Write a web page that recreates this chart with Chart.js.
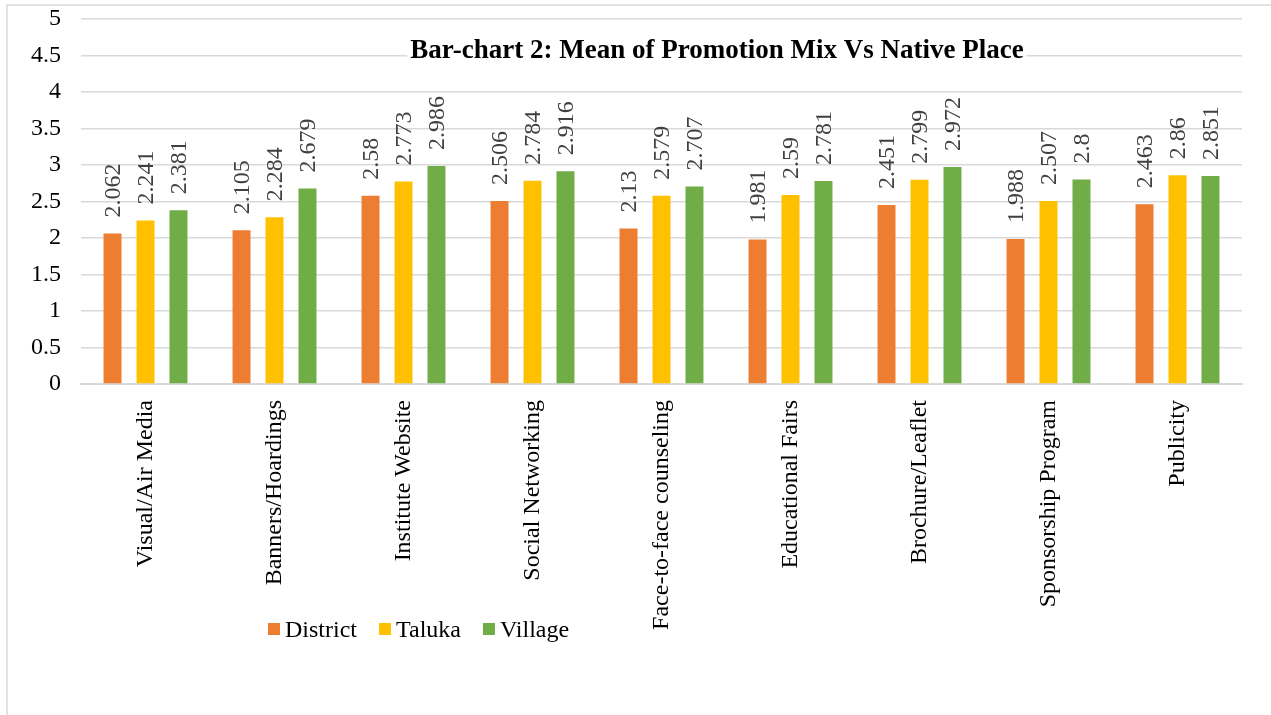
<!DOCTYPE html>
<html>
<head>
<meta charset="utf-8">
<script src="https://cdn.jsdelivr.net/npm/chart.js@4/dist/chart.umd.min.js"></script>
<style>
  html, body { margin: 0; padding: 0; background: #fff; }
  #wrap { position: absolute; left: 0; top: 0; width: 1271px; height: 715px; }
</style>
</head>
<body>
<div id="wrap"><canvas id="chart" width="1271" height="715"></canvas></div>
<script>
// Data
const categories = ['Visual/Air Media', 'Banners/Hoardings', 'Institute Website', 'Social Networking',
    'Face-to-face counseling', 'Educational Fairs', 'Brochure/Leaflet', 'Sponsorship Program', 'Publicity'];
const districtVals = [2.062, 2.105, 2.58, 2.506, 2.13, 1.981, 2.451, 1.988, 2.463];
const talukaVals = [2.241, 2.284, 2.773, 2.784, 2.579, 2.59, 2.799, 2.507, 2.86];
const villageVals = [2.381, 2.679, 2.986, 2.916, 2.707, 2.781, 2.972, 2.8, 2.851];
const seriesNames = ['District', 'Taluka', 'Village'];
const yTickLabels = ['0', '0.5', '1', '1.5', '2', '2.5', '3', '3.5', '4', '4.5', '5'];
const chartTitle = 'Bar-chart 2: Mean of Promotion Mix Vs Native Place';

const colors = ['#ED7D31', '#FFC000', '#70AD47'];
const serif = '"Liberation Serif", "Times New Roman", serif';

// outer frame (top and left edges, like the cropped Word figure)
const framePlugin = {
    id: 'frame',
    beforeDraw(chart) {
        const ctx = chart.ctx;
        ctx.save();
        ctx.strokeStyle = '#d9d9d9';
        ctx.lineWidth = 1.5;
        ctx.beginPath();
        ctx.moveTo(7, 715);
        ctx.lineTo(7, 5);
        ctx.lineTo(1271, 5);
        ctx.stroke();
        ctx.restore();
    }
};

// title sits inside the plot, with a white box over the gridline
const titlePlugin = {
    id: 'innerTitle',
    beforeDatasetsDraw(chart) {
        const ctx = chart.ctx;
        ctx.save();
        ctx.font = 'bold 27px ' + serif;
        const w = ctx.measureText(chartTitle).width;
        const cx = 717;
        ctx.fillStyle = '#fff';
        ctx.fillRect(cx - w / 2 - 3, 34, w + 6, 30);
        ctx.fillStyle = '#000';
        ctx.textAlign = 'center';
        ctx.textBaseline = 'alphabetic';
        ctx.fillText(chartTitle, cx, 58);
        ctx.restore();
    }
};

// vertical value labels above each bar
const valueLabels = {
    id: 'valueLabels',
    afterDatasetsDraw(chart) {
        const ctx = chart.ctx;
        ctx.save();
        ctx.font = '24px ' + serif;
        ctx.fillStyle = '#404040';
        ctx.textAlign = 'left';
        ctx.textBaseline = 'middle';
        chart.data.datasets.forEach((ds, i) => {
            chart.getDatasetMeta(i).data.forEach((bar, j) => {
                ctx.save();
                ctx.translate(bar.x + 1, bar.y - 16);
                ctx.rotate(-Math.PI / 2);
                ctx.fillText(String(ds.data[j]), 0, 0);
                ctx.restore();
            });
        });
        ctx.restore();
    }
};

// legend drawn below-left, overlapping the category label band
const legendPlugin = {
    id: 'sideLegend',
    afterDraw(chart) {
        const ctx = chart.ctx;
        ctx.save();
        ctx.font = '24px ' + serif;
        ctx.textBaseline = 'alphabetic';
        let x = 268;
        chart.data.datasets.forEach(ds => {
            ctx.fillStyle = ds.backgroundColor;
            ctx.fillRect(x, 623, 12, 12);
            ctx.fillStyle = '#000';
            ctx.fillText(ds.label, x + 17, 637);
            x += 17 + ctx.measureText(ds.label).width + 22;
        });
        ctx.restore();
    }
};

const ctx = document.getElementById('chart').getContext('2d');
new Chart(ctx, {
    type: 'bar',
    data: {
        labels: categories,
        datasets: [
            { label: seriesNames[0], data: districtVals, backgroundColor: colors[0] },
            { label: seriesNames[1], data: talukaVals, backgroundColor: colors[1] },
            { label: seriesNames[2], data: villageVals, backgroundColor: colors[2] }
        ]
    },
    options: {
        responsive: false,
        animation: false,
        layout: { padding: { top: 19, right: 29, left: 0, bottom: 0 } },
        datasets: {
            bar: { categoryPercentage: 0.767, barPercentage: 0.545 }
        },
        plugins: {
            legend: { display: false },
            title: { display: false },
            tooltip: { enabled: false }
        },
        scales: {
            x: {
                grid: { display: false, drawTicks: false },
                border: { color: '#d9d9d9', width: 2 },
                ticks: {
                    minRotation: 90,
                    maxRotation: 90,
                    padding: 16,
                    color: '#000',
                    font: { family: serif, size: 24 }
                },
                afterFit(scale) { scale.height = 331; scale.paddingTop = 0; scale.paddingBottom = 0; }
            },
            y: {
                min: 0,
                max: 5,
                grid: { color: '#d9d9d9', lineWidth: 1.5, drawTicks: false },
                border: { display: false },
                ticks: {
                    stepSize: 0.5,
                    padding: 20,
                    color: '#000',
                    font: { family: serif, size: 24 },
                    callback: (v, i) => yTickLabels[i]
                },
                // pin the plot box to where the reference has it
                afterFit(scale) { scale.width = 81; scale.paddingTop = 0; scale.paddingBottom = 0; }
            }
        }
    },
    plugins: [framePlugin, titlePlugin, valueLabels, legendPlugin]
});
</script>
</body>
</html>
